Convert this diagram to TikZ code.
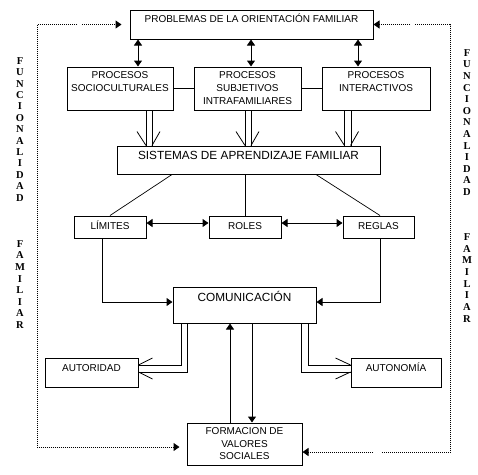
\documentclass[tikz,border=0pt]{standalone}
\usepackage{fontspec}
\setmainfont{Liberation Sans}
\newfontfamily\vfont{Liberation Serif}
\usetikzlibrary{arrows.meta,calc}
\begin{document}
\begin{tikzpicture}[x=1pt,y=-1pt,
  box/.style={draw, line width=1pt, inner sep=0pt, align=center, font=\fontsize{10}{13}\selectfont},
  bigtext/.style={font=\fontsize{11.8}{14}\selectfont},
  con/.style={line width=1pt},
  thinline/.style={line width=0.7pt},
  tip/.style={-{Triangle[length=6pt,width=8pt]}},
  dtip/.style={{Triangle[length=6pt,width=8pt]}-{Triangle[length=6pt,width=8pt]}},
  dotl/.style={line width=1pt, dash pattern=on 1pt off 1pt},
  vlab/.style={align=center, inner sep=0pt, anchor=north},
  vhead/.pic={\draw[line width=0.8pt] (-3,0) -- (-12,-14) (3,0) -- (11,-14);},
  hleft/.pic={\draw[line width=0.8pt] (0,-3.5) -- (14,-10.5) (0,3.5) -- (14,10.5);},
  hright/.pic={\draw[line width=0.8pt] (0,-3.5) -- (-15,-10.5) (0,3.5) -- (-15,10.5);}
]
\useasboundingbox[fill=white] (0,0) rectangle (478,474);

% boxes
\node[box, minimum width=243pt, minimum height=29pt, text height=7.2pt, text depth=11pt] (top) at (251.5,24.5) {PROBLEMAS DE LA ORIENTACIÓN FAMILIAR};
\node[box, minimum width=106pt, minimum height=43pt] (soc) at (120,88.5) {PROCESOS\\SOCIOCULTURALES\\~};
\node[box, minimum width=107pt, minimum height=43pt] (sub) at (247.5,88.5) {PROCESOS\\SUBJETIVOS\\INTRAFAMILIARES};
\node[box, minimum width=108pt, minimum height=43pt] (int) at (376,88.5) {PROCESOS\\INTERACTIVOS\\~};
\node[box, bigtext, minimum width=263pt, minimum height=28pt, text height=8.5pt, text depth=10pt] (sis) at (248.5,160) {SISTEMAS DE APRENDIZAJE FAMILIAR};
\node[box, minimum width=72pt, minimum height=22pt, text height=7.2pt, text depth=3pt] (lim) at (110,227) {LÍMITES};
\node[box, minimum width=72pt, minimum height=22pt, text height=7.2pt, text depth=3pt] (rol) at (245,227) {ROLES};
\node[box, minimum width=71pt, minimum height=22pt, text height=7.2pt, text depth=3pt] (reg) at (378.5,227) {REGLAS};
\node[box, bigtext, minimum width=143pt, minimum height=36pt, text height=8.5pt, text depth=16.5pt] (com) at (244.5,305) {COMUNICACIÓN};
\node[box, minimum width=93pt, minimum height=29pt, text height=7.2pt, text depth=9pt] (aut) at (91.5,372.5) {AUTORIDAD};
\node[box, minimum width=90pt, minimum height=29pt, text height=7.2pt, text depth=9pt] (aun) at (396,372.5) {AUTONOMÍA};
\node[box, minimum width=115pt, minimum height=42pt, font=\fontsize{10}{12.5}\selectfont] (for) at (244.5,444) {FORMACION DE\\VALORES\\SOCIALES};

% vertical labels
\node[vlab, font=\vfont\bfseries\fontsize{10.5}{11.4}\selectfont] (fl1) at (20,57.3) {F\\U\\N\\C\\I\\O\\N\\A\\L\\I\\D\\A\\D};
\node[vlab, font=\vfont\bfseries\fontsize{10.5}{11.6}\selectfont] (fl2) at (20,240.3) {F\\A\\M\\I\\L\\I\\A\\R};
\node[vlab, font=\vfont\bfseries\fontsize{10.5}{11.6}\selectfont] (fr1) at (467,49.3) {F\\U\\N\\C\\I\\O\\N\\A\\L\\I\\D\\A\\D};
\node[vlab, font=\vfont\bfseries\fontsize{10.5}{11.7}\selectfont] (fr2) at (467,233.3) {F\\A\\M\\I\\L\\I\\A\\R};

% top arrows
\coordinate (a1) at (138,0);
\coordinate (a2) at (251,0);
\coordinate (a3) at (358,0);
\draw[con, dtip] (a1 |- top.south) -- (a1 |- soc.north);
\draw[con, dtip] (a2 |- top.south) -- (a2 |- sub.north);
\draw[con, dtip] (a3 |- top.south) -- (a3 |- int.north);
\draw[con] (soc.east) -- (sub.west);
\draw[con] (sub.east) -- (int.west);

% double arrows down to sistemas
\coordinate (d1) at (146,0); \coordinate (d2) at (152,0); \coordinate (m1) at (149,0);
\coordinate (d3) at (245,0); \coordinate (d4) at (251,0); \coordinate (m2) at (248,0);
\coordinate (d5) at (344,0); \coordinate (d6) at (351,0); \coordinate (m3) at (347.5,0);
\draw[con] (d1 |- soc.south) -- (d1 |- sis.north) (d2 |- soc.south) -- (d2 |- sis.north);
\draw[con] (d3 |- sub.south) -- (d3 |- sis.north) (d4 |- sub.south) -- (d4 |- sis.north);
\draw[con] (d5 |- int.south) -- (d5 |- sis.north) (d6 |- int.south) -- (d6 |- sis.north);
\pic at (m1 |- sis.north) {vhead};
\pic at (m2 |- sis.north) {vhead};
\pic at (m3 |- sis.north) {vhead};

% sistemas to limites/roles/reglas
\draw[thinline] ([xshift=-76.5pt]sis.south) -- (lim.north);
\draw[con] (rol.north |- sis.south) -- (rol.north);
\draw[thinline] ([xshift=67.5pt]sis.south) -- ([xshift=1.5pt]reg.north);
\draw[con, dtip] ([yshift=4pt]lim.east) -- ([yshift=4pt]rol.west);
\draw[con, dtip] ([yshift=4pt]rol.east) -- ([yshift=4pt]reg.west);

% to comunicacion
\draw[con, tip] ([xshift=-8pt]lim.south) |- ([yshift=3pt]com.west);
\draw[con, tip] ([xshift=1.5pt]reg.south) |- ([yshift=3pt]com.east);

% comunicacion <-> formacion
\draw[con, tip] ([xshift=7.5pt]com.south) -- ([xshift=7.5pt]for.north);
\draw[con, tip] ([xshift=-14.5pt]for.north) -- ([xshift=-14.5pt]com.south);

% double arrows to autoridad / autonomia
\draw[con] ([xshift=-63.5pt]com.south) |- ([yshift=7.5pt]aut.east);
\draw[con] ([xshift=-57.5pt]com.south) |- ([yshift=0.5pt]aut.east);
\pic at ([yshift=4pt]aut.east) {hleft};
\draw[con] ([xshift=56.5pt]com.south) |- ([yshift=0.5pt]aun.west);
\draw[con] ([xshift=63.5pt]com.south) |- ([yshift=7.5pt]aun.west);
\pic at ([yshift=4pt]aun.west) {hright};

% dotted feedback loops
\coordinate (gL1) at (77,24.5);
\coordinate (gL2) at (82,24.5);
\draw[dotl, tip] (gL1) -- (37,24.5) |- ([xshift=-7pt,yshift=-3pt]for.west);
\draw[dotl, tip] (gL2) -- ([xshift=-8pt]top.west);
\coordinate (gR1) at (410,24.5);
\coordinate (gR2) at (415,24.5);
\coordinate (gR3) at (381,452);
\coordinate (gR4) at (373,452);
\draw[dotl, tip] (gR1) -- (top.east);
\draw[dotl] (gR2) -- (450,24.5) |- (gR3);
\draw[dotl, tip] (gR4) -- ([yshift=-8pt]for.east);
\end{tikzpicture}
\end{document}
